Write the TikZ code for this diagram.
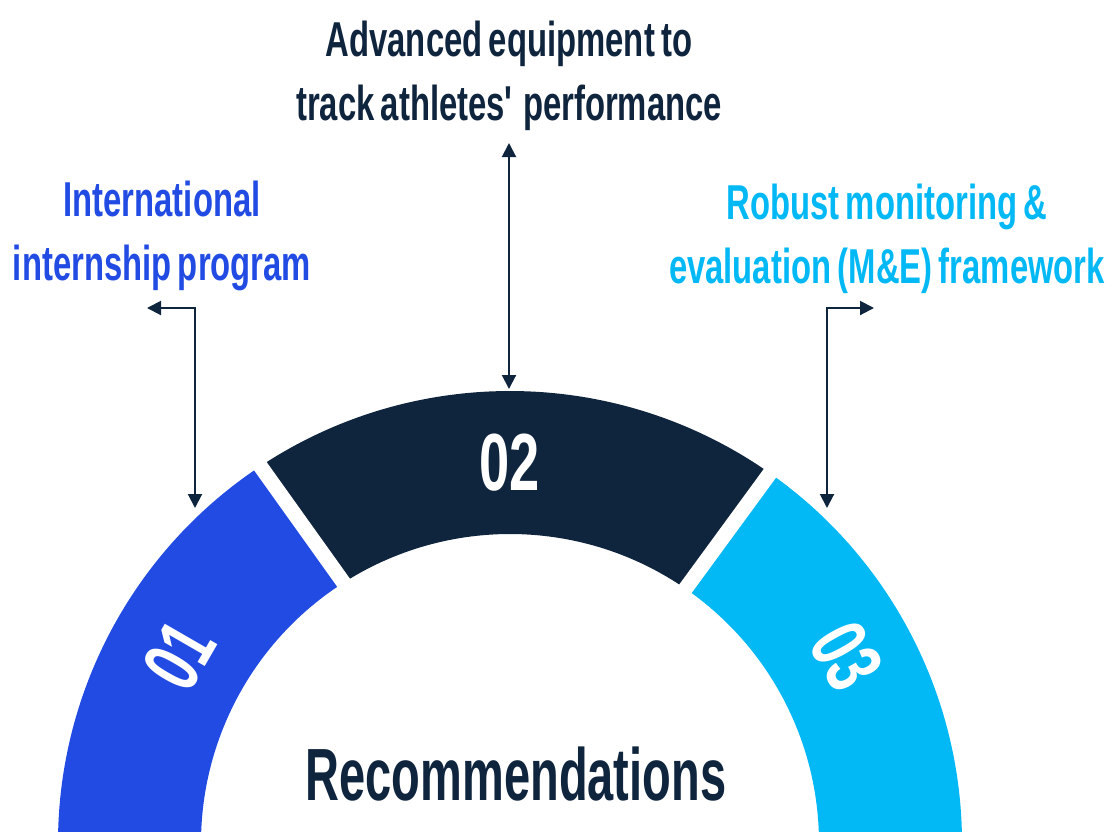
\documentclass[tikz,border=0pt]{standalone}
\usepackage{fontspec}
\newfontfamily\condfont{Liberation Sans}[FakeStretch=0.67, WordSpace=0.7]
\newfontfamily\titlefont{Liberation Sans}[FakeStretch=0.635]
\usetikzlibrary{arrows.meta}
\definecolor{ringblue}{HTML}{214BE3}
\definecolor{ringnavy}{HTML}{0F243D}
\definecolor{ringcyan}{HTML}{02B8F5}

\begin{document}
\begin{tikzpicture}[x=1pt, y=1pt,
  label/.style={align=center, anchor=base, inner sep=0pt,
    font=\condfont\bfseries\fontsize{49}{64}\selectfont},
  num/.style={text=white, inner sep=0pt,
    font=\condfont\bfseries\fontsize{81}{81}\selectfont},
  link/.style={draw=ringnavy, line width=2pt,
    {Triangle[width=14pt,length=14pt]}-{Triangle[width=14pt,length=14pt]}}]

  \useasboundingbox (0,0) rectangle (1114,-831);
  \clip (0,0) rectangle (1114,-831);

  % ring
  \coordinate (ctr) at (510,-843);
  \fill[ringblue] ([shift={(180:452)}]ctr) arc[start angle=180, end angle=123, radius=452]
    -- ([shift={(123:309)}]ctr) arc[start angle=123, end angle=180, radius=309] -- cycle;
  \fill[ringnavy] ([shift={(123:452)}]ctr) arc[start angle=123, end angle=55, radius=452]
    -- ([shift={(55:309)}]ctr) arc[start angle=55, end angle=123, radius=309] -- cycle;
  \fill[ringcyan] ([shift={(55:452)}]ctr) arc[start angle=55, end angle=0, radius=452]
    -- ([shift={(0:309)}]ctr) arc[start angle=0, end angle=55, radius=309] -- cycle;
  \draw[white, line width=15pt] ([shift={(122.4:290)}]ctr) -- ([shift={(123.6:470)}]ctr);
  \draw[white, line width=15pt] ([shift={(55.5:290)}]ctr) -- ([shift={(54.85:470)}]ctr);

  % numbers
  \node[num, rotate=60] (n01) at ([shift={(150.5:380)}]ctr) {01};
  \node[num] (n02) at ([shift={(90:380)}]ctr) {02};
  \node[num, rotate=-61] (n03) at ([shift={(29:385)}]ctr) {03};

  \node[text=ringnavy, anchor=base, inner sep=0pt,
    font=\titlefont\bfseries\fontsize{74}{74}\selectfont] (title) at (516,-800) {Recommendations};

  % labels (anchored at the last line)
  \node[label, text=ringblue] (t01) at (162,-280) {International\\internship program};
  \node[label, text=ringnavy] (t02) at (509,-120) {Advanced equipment to\\track athletes\textquotesingle{} performance};
  \node[label, text=ringcyan] (t03) at (887,-283) {Robust monitoring \&\\evaluation (M\&E) framework};

  % connectors
  \coordinate (a01l) at (147,-308);
  \coordinate (a01b) at (195,-508);
  \coordinate (a02t) at (509,-143);
  \coordinate (a02b) at (509,-389);
  \coordinate (a03b) at (827,-508);
  \coordinate (a03r) at (874,-308);
  \draw[link] (a01l) -| (a01b);
  \draw[link] (a02t) -- (a02b);
  \draw[link] (a03b) |- (a03r);

\end{tikzpicture}
\end{document}
